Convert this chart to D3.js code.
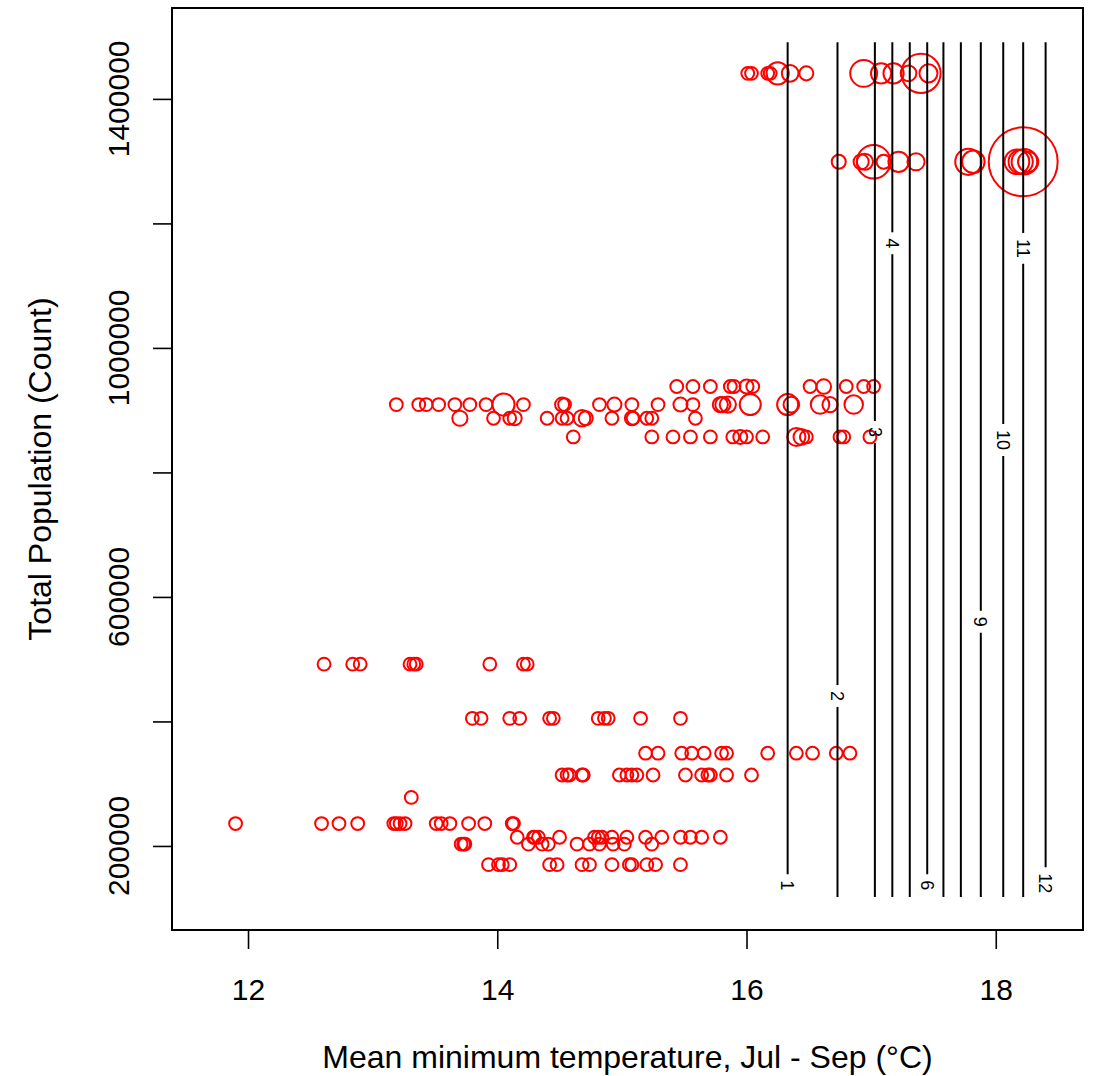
<!DOCTYPE html>
<html>
<head>
<script src="https://d3js.org/d3.v7.min.js"></script>
<style>
  body { margin: 0; background: #fff; }
  text { font-family: "Liberation Sans", Arial, sans-serif; }
</style>
</head>
<body>
<svg id="svg"></svg>
<script>
// population rows (count) and the temperatures observed on each row
const populations = [1441000, 1299000, 938000, 909000, 887000, 857000, 492000, 405000,
                     349000, 314000, 278000, 236000, 214000, 203000, 170000];

const temps = [
  [16.01, 16.04, 16.17, 16.19, 16.25, 16.35, 16.48, 16.94, 17.08, 17.18, 17.30, 17.40, 17.46],
  [16.74, 16.92, 16.95, 17.02, 17.10, 17.22, 17.36, 17.78, 17.82, 18.17, 18.20, 18.22, 18.23, 18.26],
  [15.44, 15.57, 15.71, 15.87, 15.90, 16.00, 16.05, 16.51, 16.62, 16.80, 16.94, 17.02],
  [13.19, 13.37, 13.43, 13.53, 13.66, 13.78, 13.91, 14.05, 14.21, 14.52, 14.54, 14.82, 14.94,
   15.08, 15.29, 15.47, 15.57, 15.79, 15.81, 15.85, 16.03, 16.33, 16.36, 16.59, 16.67, 16.86],
  [13.70, 13.97, 14.10, 14.14, 14.40, 14.52, 14.56, 14.68, 14.71, 14.92, 15.08, 15.09, 15.20, 15.24, 15.59],
  [14.61, 15.24, 15.41, 15.55, 15.71, 15.89, 15.95, 16.00, 16.13, 16.40, 16.44, 16.48, 16.75, 16.78, 16.99],
  [12.61, 12.84, 12.90, 13.30, 13.33, 13.35, 13.94, 14.21, 14.24],
  [13.80, 13.87, 14.10, 14.18, 14.42, 14.45, 14.81, 14.86, 14.89, 15.15, 15.47],
  [15.19, 15.29, 15.48, 15.56, 15.66, 15.80, 15.84, 16.17, 16.40, 16.53, 16.72, 16.83],
  [14.52, 14.56, 14.58, 14.68, 14.69, 14.98, 15.04, 15.08, 15.12, 15.25, 15.51, 15.64, 15.69, 15.71, 15.84, 16.04],
  [13.31],
  [11.90, 12.59, 12.73, 12.88, 13.17, 13.19, 13.22, 13.26, 13.51, 13.55, 13.62, 13.77, 13.90, 14.12, 14.13],
  [14.16, 14.29, 14.30, 14.33, 14.50, 14.78, 14.81, 14.84, 14.92, 15.04, 15.19, 15.32, 15.47, 15.55, 15.64, 15.79],
  [13.71, 13.73, 13.74, 14.25, 14.36, 14.41, 14.64, 14.74, 14.82, 14.93, 15.02, 15.24],
  [13.93, 14.01, 14.04, 14.10, 14.42, 14.48, 14.68, 14.74, 14.92, 15.06, 15.08, 15.20, 15.27, 15.47]
];

// symbol weight per point (null = all 1)
const weights = [
  [1, 1, 1, 1, 3, 1.7, 1.2, 4.4, 2.5, 2.5, 1.5, 9.4, 2],
  [1.2, 1.4, 1.6, 6.9, 1.2, 2.5, 1.8, 4.2, 3.1, 3.7, 3.6, 29, 4, 2.5],
  [1, 1, 1, 1, 1, 1.2, 1, 1, 1.3, 1, 1, 1],
  [1, 1, 1, 1, 1, 1, 1, 3, 1, 1.2, 1, 1, 1.2, 1, 1, 1.2, 1, 1.4, 1.4, 1.6, 2.7, 2.7, 1.5, 2.1, 1.4, 2.1],
  [1.4, 1, 1, 1.2, 1, 1, 1, 1.7, 1.2, 1, 1.2, 1, 1, 1, 1],
  [1, 1, 1, 1, 1, 1, 1.2, 1, 1, 2, 1.5, 1, 1, 1, 1],
  null, null, null, null, null, null, null, null, null
];

// contour levels (vertical lines) and where their labels sit
const contourLevels = [1, 2, 3, 4, 5, 6, 7, 8, 9, 10, 11, 12];
const contourTemps = [16.33, 16.73, 17.03, 17.17, 17.31, 17.45, 17.58, 17.72, 17.88, 18.06, 18.22, 18.40];
const contourLabelPop = [137000, 441000, 865000, 1168000, null, 137000, null, null, 560000, 852000, 1160000, 140000];
const contourPopRange = [118000, 1491000];

const xTicks = [12, 14, 16, 18];
const yTicks = [200000, 400000, 600000, 800000, 1000000, 1200000, 1400000];
const yLabelTicks = [200000, 600000, 1000000, 1400000];

const width = 1098, height = 1076;
const plotL = 172, plotR = 1083, plotT = 8, plotB = 930;

const svg = d3.select("#svg").attr("width", width).attr("height", height);

const x = d3.scaleLinear().domain([11.39, 18.70]).range([plotL, plotR]);
const y = d3.scaleLinear().domain([65000, 1546000]).range([plotB, plotT]);
const r = d3.scaleSqrt().domain([0, 1]).range([0, 6.4]);

// points
let pts = [];
populations.forEach((p, i) => {
  temps[i].forEach((t, j) => {
    pts.push({ t: t, p: p, w: weights[i] ? weights[i][j] : 1 });
  });
});

svg.append("g").selectAll("circle")
  .data(pts)
  .enter()
  .append("circle")
  .attr("cx", d => x(d.t))
  .attr("cy", d => y(d.p))
  .attr("r", d => r(d.w))
  .attr("fill", "none")
  .attr("stroke", "#ff0000")
  .attr("stroke-width", 2);

// contours
const cg = svg.append("g");
contourLevels.forEach((lev, i) => {
  const cx = x(contourTemps[i]);
  const y0 = y(contourPopRange[1]), y1 = y(contourPopRange[0]);
  if (contourLabelPop[i] == null) {
    cg.append("line").attr("x1", cx).attr("x2", cx).attr("y1", y0).attr("y2", y1)
      .attr("stroke", "#000").attr("stroke-width", 2);
    return;
  }
  const ly = y(contourLabelPop[i]);
  const lab = cg.append("text")
    .attr("transform", `translate(${cx},${ly}) rotate(90)`)
    .attr("text-anchor", "middle")
    .attr("dy", "0.35em")
    .attr("font-size", 18)
    .text(lev);
  const half = lab.node().getComputedTextLength() / 2 + 6;
  if (ly - half > y0 + 6)
    cg.append("line").attr("x1", cx).attr("x2", cx).attr("y1", y0).attr("y2", ly - half)
      .attr("stroke", "#000").attr("stroke-width", 2);
  if (ly + half < y1 - 6)
    cg.append("line").attr("x1", cx).attr("x2", cx).attr("y1", ly + half).attr("y2", y1)
      .attr("stroke", "#000").attr("stroke-width", 2);
});

// axes
const xAxis = svg.append("g")
  .attr("transform", `translate(0,${plotB})`)
  .call(d3.axisBottom(x).tickValues(xTicks).tickSize(19).tickSizeOuter(0).tickPadding(30));
xAxis.select(".domain").remove();
xAxis.selectAll("line").attr("stroke-width", 1.6);
xAxis.selectAll("text").attr("font-size", 30).attr("font-family", "Liberation Sans, Arial, sans-serif").attr("fill", "#000");

const yAxis = svg.append("g")
  .attr("transform", `translate(${plotL},0)`)
  .call(d3.axisLeft(y).tickValues(yTicks).tickSize(19).tickSizeOuter(0).tickFormat(""));
yAxis.select(".domain").remove();
yAxis.selectAll("line").attr("stroke-width", 1.6);

svg.append("g").selectAll("text")
  .data(yLabelTicks)
  .enter()
  .append("text")
  .attr("transform", d => `translate(118,${y(d)}) rotate(-90)`)
  .attr("text-anchor", "middle")
  .attr("dy", "0.35em")
  .attr("font-size", 30)
  .text(d => d);

// box
svg.append("rect")
  .attr("x", plotL).attr("y", plotT)
  .attr("width", plotR - plotL).attr("height", plotB - plotT)
  .attr("fill", "none").attr("stroke", "#000").attr("stroke-width", 2);

// titles
svg.append("text")
  .attr("x", (plotL + plotR) / 2).attr("y", 1057)
  .attr("text-anchor", "middle").attr("dy", "0.35em")
  .attr("font-size", 32)
  .text("Mean minimum temperature, Jul - Sep (\u00B0C)");

svg.append("text")
  .attr("transform", `translate(40,${(plotT + plotB) / 2}) rotate(-90)`)
  .attr("text-anchor", "middle").attr("dy", "0.35em")
  .attr("font-size", 32)
  .text("Total Population (Count)");
</script>
</body>
</html>
